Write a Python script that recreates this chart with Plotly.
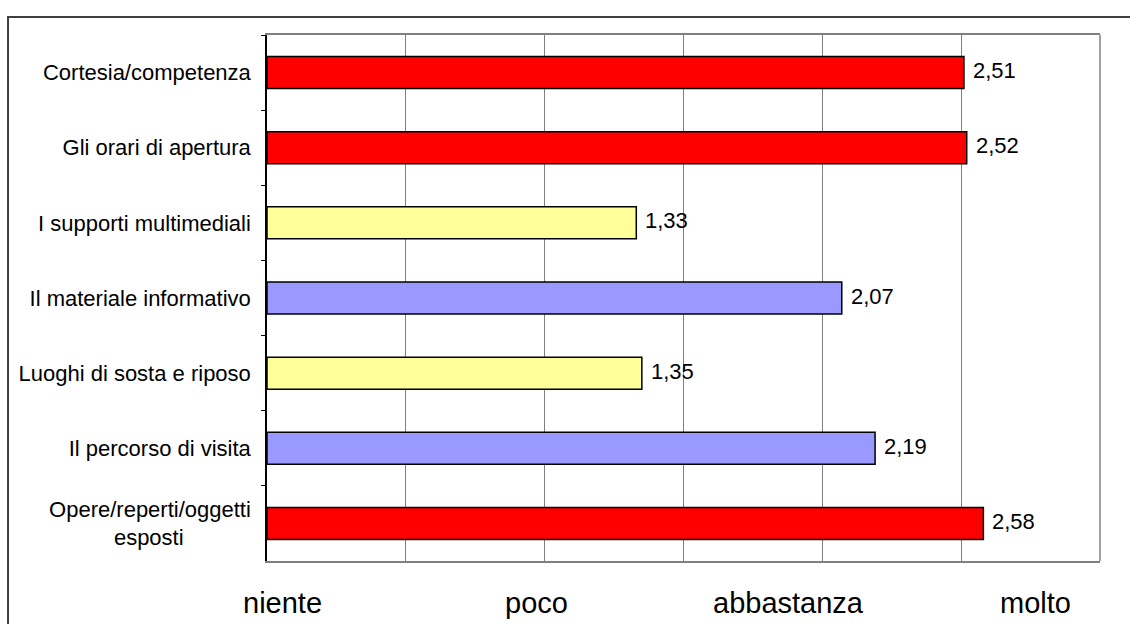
import plotly.graph_objects as go

categories = [
    "Cortesia/competenza",
    "Gli orari di apertura",
    "I supporti multimediali",
    "Il materiale informativo",
    "Luoghi di sosta e riposo",
    "Il percorso di visita",
    "Opere/reperti/oggetti<br>esposti" + "\u00a0" * 11,
]
values = [2.51, 2.52, 1.33, 2.07, 1.35, 2.19, 2.58]
colors = ["#FF0000", "#FF0000", "#FFFF99", "#9999FF", "#FFFF99", "#9999FF", "#FF0000"]
scale_labels = ["niente", "poco", "abbastanza", "molto"]
scale_label_pos = [0.0186, 0.3235, 0.626, 0.922]

FONT = "Liberation Sans, Arial, sans-serif"

fig = go.Figure()
fig.add_trace(go.Bar(
    x=values,
    y=categories,
    orientation="h",
    marker=dict(color=colors, line=dict(color="#000000", width=1.5)),
    hoverinfo="skip",
))

annotations = []
for c, v in zip(categories, values):
    annotations.append(dict(
        x=v, y=c, xref="x", yref="y",
        text=f"{v:.2f}".replace(".", ","),
        showarrow=False, xanchor="left", yanchor="middle", xshift=7, yshift=2,
        font=dict(family=FONT, size=22, color="#000000"),
    ))
for lab, px in zip(scale_labels, scale_label_pos):
    annotations.append(dict(
        x=px, y=-0.08, xref="paper", yref="paper",
        text=lab, showarrow=False, xanchor="center", yanchor="middle",
        font=dict(family=FONT, size=29, color="#000000"),
    ))

fig.update_layout(
    width=1130, height=624,
    margin=dict(l=267, r=30, t=35, b=63),
    paper_bgcolor="#FFFFFF",
    plot_bgcolor="#FFFFFF",
    showlegend=False,
    bargap=0.574,
    annotations=annotations,
    font=dict(family=FONT, size=22, color="#000000"),
    xaxis=dict(
        range=[0, 3], dtick=0.5, tick0=0,
        showgrid=True, gridcolor="#808080", gridwidth=1,
        showticklabels=False, ticks="",
        showline=True, linecolor="#808080", linewidth=1.5, mirror=True,
        zeroline=False, fixedrange=True,
    ),
    yaxis=dict(
        categoryorder="array", categoryarray=categories,
        autorange="reversed",
        showgrid=False, zeroline=False,
        showline=True, linecolor="#000000", linewidth=1.5,
        ticks="outside", tickson="boundaries", ticklen=4, tickcolor="#000000",
        ticklabelstandoff=10,
        tickfont=dict(family=FONT, size=22, color="#000000"),
        fixedrange=True,
    ),
    shapes=[
        dict(type="line", xref="paper", yref="paper", x0=1, x1=1, y0=0, y1=1,
             line=dict(color="#808080", width=1.5), layer="above"),
        dict(type="rect", xref="paper", yref="paper",
             x0=-0.3109, x1=1.05, y0=-0.15, y1=1.0342,
             line=dict(color="#404040", width=2), layer="below"),
    ],
)

fig.write_html("out.html")
